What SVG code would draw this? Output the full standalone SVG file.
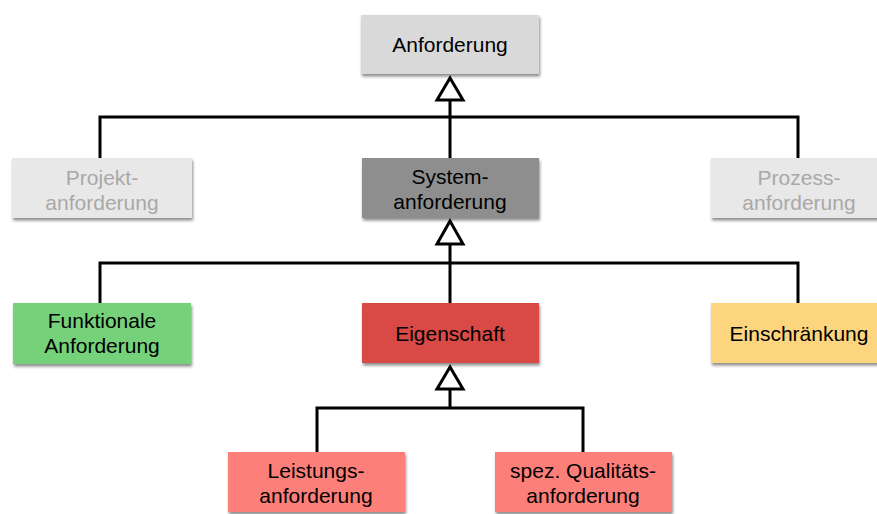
<svg xmlns="http://www.w3.org/2000/svg" width="877" height="514" viewBox="0 0 877 514">
  <style>
    .box { filter: url(#shadow); }
    .lbl { font-family: "Liberation Sans", Arial, sans-serif; font-size: 21px; text-anchor: middle; fill: #000; }
    .faded { fill: #a8a8a8; }
    .edge { fill: none; stroke: #000; stroke-width: 3; }
    .head { fill: #fff; stroke: #000; stroke-width: 3; stroke-linejoin: miter; }
  </style>
  <defs>
    <filter id="shadow" x="-10%" y="-20%" width="125%" height="150%">
      <feDropShadow dx="1" dy="2.5" stdDeviation="1.5" flood-color="#000" flood-opacity="0.45"/>
    </filter>
  </defs>
  <rect width="877" height="514" fill="#fff"/>

  <!-- generalisation connectors -->
  <g id="connectors">
    <path class="edge" d="M450 100 V117 M100 158 V117 H798 V158 M450 117 V158"/>
    <polygon class="head" points="450,78 437,100 463,100"/>
    <path class="edge" d="M450 245 V263 M100 303 V263 H798 V303 M450 263 V303"/>
    <polygon class="head" points="450,221 437,244 463,244"/>
    <path class="edge" d="M450 389 V408 M317 452 V408 H583 V452"/>
    <polygon class="head" points="450,367 437,389 463,389"/>
  </g>

  <g id="anforderung">
    <rect class="box" x="361" y="15" width="178" height="59" fill="#d9d9d9"/>
    <text class="lbl" x="450" y="52">Anforderung</text>
  </g>

  <g id="projektanforderung">
    <rect class="box" x="12" y="158" width="180" height="60" fill="#e8e8e8"/>
    <text class="lbl faded" x="102" y="185">Projekt-</text>
    <text class="lbl faded" x="102" y="210">anforderung</text>
  </g>

  <g id="systemanforderung">
    <rect class="box" x="362" y="158" width="177" height="60" fill="#8e8e8e"/>
    <text class="lbl" x="450" y="184">System-</text>
    <text class="lbl" x="450" y="209">anforderung</text>
  </g>

  <g id="prozessanforderung">
    <rect class="box" x="711" y="158" width="178" height="60" fill="#e8e8e8"/>
    <text class="lbl faded" x="799" y="185">Prozess-</text>
    <text class="lbl faded" x="799" y="210">anforderung</text>
  </g>

  <g id="funktionale-anforderung">
    <rect class="box" x="13" y="303" width="178" height="61" fill="#74d17a"/>
    <text class="lbl" x="102" y="328">Funktionale</text>
    <text class="lbl" x="102" y="353">Anforderung</text>
  </g>

  <g id="eigenschaft">
    <rect class="box" x="362" y="303" width="177" height="60" fill="#d94a44"/>
    <text class="lbl" x="450" y="341">Eigenschaft</text>
  </g>

  <g id="einschraenkung">
    <rect class="box" x="711" y="303" width="178" height="60" fill="#fdd57e"/>
    <text class="lbl" x="799" y="341">Einschränkung</text>
  </g>

  <g id="leistungsanforderung">
    <rect class="box" x="228" y="452" width="177" height="60" fill="#fd7f7a"/>
    <text class="lbl" x="316" y="478">Leistungs-</text>
    <text class="lbl" x="316" y="503">anforderung</text>
  </g>

  <g id="qualitaetsanforderung">
    <rect class="box" x="495" y="452" width="177" height="60" fill="#fd7f7a"/>
    <text class="lbl" x="583" y="478">spez. Qualitäts-</text>
    <text class="lbl" x="583" y="503">anforderung</text>
  </g>
</svg>
